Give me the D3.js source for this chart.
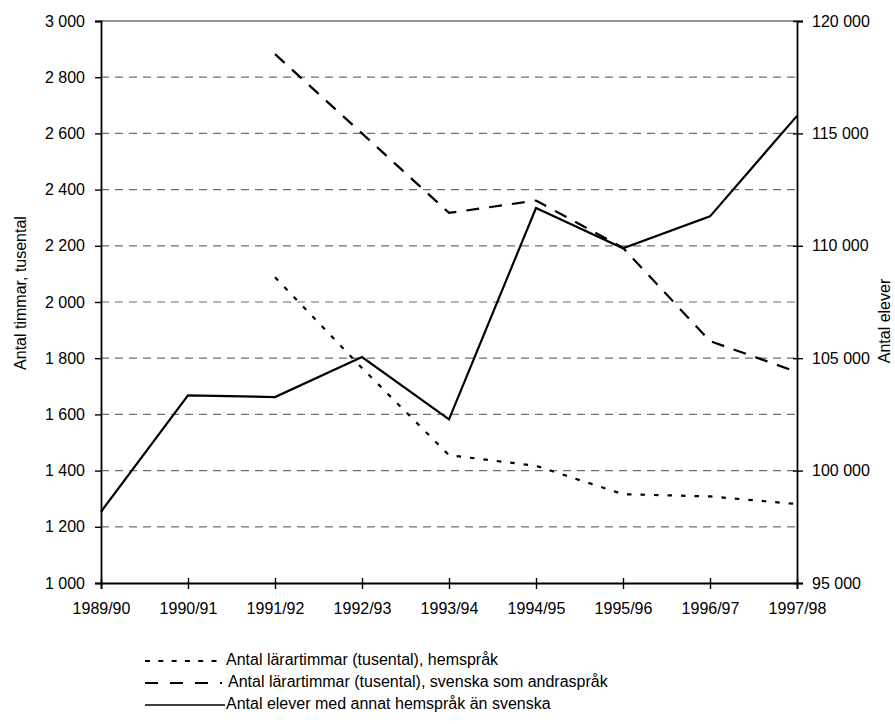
<!DOCTYPE html>
<html>
<head>
<meta charset="utf-8">
<script src="https://cdn.jsdelivr.net/npm/d3@7"></script>
<style>
  html, body { margin: 0; padding: 0; background: #fff; }
  svg text {
    font-family: "Liberation Sans", Arial, sans-serif;
    font-size: 16px;
    fill: #000;
  }
</style>
</head>
<body>
<svg id="chart" width="895" height="724"></svg>
<script>
// School years on the category axis
const years = ["1989/90", "1990/91", "1991/92", "1992/93", "1993/94", "1994/95", "1995/96", "1996/97", "1997/98"];

// Teacher hours (thousands), mother-tongue tuition (left axis)
const hoursHemsprak = [null, null, 2088, 1765, 1455, 1417, 1316, 1308, 1281];

// Teacher hours (thousands), Swedish as a second language (left axis)
const hoursSvenska = [null, null, 2882, 2600, 2317, 2361, 2193, 1861, 1751];

// Pupils with a home language other than Swedish (right axis)
const pupils = [98170, 103350, 103270, 105050, 102280, 111680, 109890, 111310, 115780];

// Axis ticks
const leftTicks = [1000, 1200, 1400, 1600, 1800, 2000, 2200, 2400, 2600, 2800, 3000];
const rightTicks = [95000, 100000, 105000, 110000, 115000, 120000];

// Legend entries
const legendLabels = [
  "Antal lärartimmar (tusental), hemspråk",
  "Antal lärartimmar (tusental), svenska som andraspråk",
  "Antal elever med annat hemspråk än svenska"
];

const svg = d3.select("#chart");
const plot = { left: 101, right: 797, top: 21, bottom: 583 };

const x = d3.scalePoint().domain(years).range([plot.left, plot.right]).padding(0);
const yL = d3.scaleLinear().domain([1000, 3000]).range([plot.bottom, plot.top]);
const yR = d3.scaleLinear().domain([95000, 120000]).range([plot.bottom, plot.top]);

const fmt = v => d3.format(",")(v).replace(/,/g, " ");

// Horizontal gridlines
const grid = svg.append("g");
grid.selectAll("line")
  .data(leftTicks.filter(t => t > 1000))
  .join("line")
  .attr("x1", plot.left).attr("x2", plot.right)
  .attr("y1", d => yL(d)).attr("y2", d => yL(d))
  .attr("stroke", "#6f6f6f")
  .attr("stroke-width", d => d === 3000 ? 1.6 : 1.2)
  .attr("stroke-dasharray", d => d === 3000 ? null : "8,6");

// Left axis
const leftAxis = svg.append("g")
  .attr("transform", `translate(${plot.left},0)`)
  .call(d3.axisLeft(yL).tickValues(leftTicks).tickFormat(fmt).tickSize(6).tickPadding(10));

// Right axis (ticks cross the line)
const rightAxis = svg.append("g")
  .attr("transform", `translate(${plot.right},0)`)
  .call(d3.axisRight(yR).tickValues(rightTicks).tickFormat(fmt).tickSize(6).tickPadding(9));
rightAxis.selectAll(".tick line").attr("x1", -4);

// Bottom axis (ticks cross the line)
const bottomAxis = svg.append("g")
  .attr("transform", `translate(0,${plot.bottom})`)
  .call(d3.axisBottom(x).tickSize(6).tickPadding(14));
bottomAxis.selectAll(".tick line").attr("y1", -5);

[leftAxis, rightAxis, bottomAxis].forEach(a => {
  a.select(".domain").attr("stroke", "#000").attr("stroke-width", 1.8);
  a.selectAll(".tick line").attr("stroke", "#000").attr("stroke-width", 1.4);
  a.selectAll("text").attr("font-family", null).attr("font-size", null).attr("fill", "#000");
});

// Axis titles
svg.append("text")
  .attr("transform", "translate(22,293) rotate(-90)")
  .attr("text-anchor", "middle")
  .attr("dominant-baseline", "middle")
  .text("Antal timmar, tusental");

svg.append("text")
  .attr("transform", "translate(886,321) rotate(-90)")
  .attr("text-anchor", "middle")
  .attr("dominant-baseline", "middle")
  .text("Antal elever");

// Series lines
const lineL = d3.line().defined(d => d != null).x((d, i) => x(years[i])).y(d => yL(d));
const lineR = d3.line().x((d, i) => x(years[i])).y(d => yR(d));

svg.append("path").datum(hoursHemsprak)
  .attr("d", lineL).attr("fill", "none").attr("stroke", "#000")
  .attr("stroke-width", 2.2).attr("stroke-dasharray", "4.5,9");

svg.append("path").datum(hoursSvenska)
  .attr("d", lineL).attr("fill", "none").attr("stroke", "#000")
  .attr("stroke-width", 2.2).attr("stroke-dasharray", "13,10");

svg.append("path").datum(pupils)
  .attr("d", lineR).attr("fill", "none").attr("stroke", "#000")
  .attr("stroke-width", 2.2).attr("stroke-linejoin", "miter");

// Legend
const legend = svg.append("g").attr("class", "legend");
const rowY = [661, 683, 705];
legendLabels.forEach((label, i) => {
  legend.append("line")
    .attr("x1", 145).attr("x2", i === 1 ? 222 : 225)
    .attr("y1", rowY[i]).attr("y2", rowY[i])
    .attr("stroke", "#000")
    .attr("stroke-width", i === 2 ? 1.6 : 2.2)
    .attr("stroke-dasharray", i === 0 ? "5,8.3" : i === 1 ? "13,12" : null);
  legend.append("text")
    .attr("x", i === 1 ? 228 : 226)
    .attr("y", rowY[i])
    .attr("dominant-baseline", "middle")
    .text(label);
});
</script>
</body>
</html>
